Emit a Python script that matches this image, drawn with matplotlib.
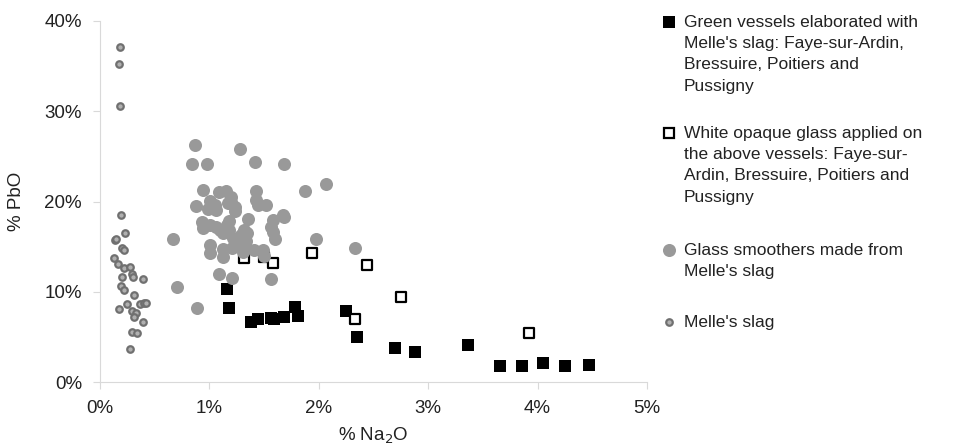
import matplotlib
matplotlib.use('Agg')
import matplotlib.pyplot as plt
from matplotlib.ticker import PercentFormatter
from matplotlib.lines import Line2D

plt.rcParams['font.family'] = ['Liberation Sans', 'DejaVu Sans']

# Green vessels elaborated with Melle's slag (% Na2O, % PbO)
green_na = [1.16, 1.18, 1.38, 1.44, 1.56, 1.59, 1.68, 1.78, 1.81, 2.25, 2.35,
            2.70, 2.88, 3.36, 3.66, 3.86, 4.05, 4.25, 4.47]
green_pb = [10.3, 8.25, 6.7, 7.0, 7.1, 7.0, 7.2, 8.3, 7.3, 7.85, 5.0,
            3.8, 3.3, 4.1, 1.8, 1.8, 2.1, 1.8, 1.95]

# White opaque glass applied on the vessels
white_na = [1.32, 1.50, 1.58, 1.94, 2.44, 2.75, 2.33, 3.92]
white_pb = [13.8, 13.9, 13.2, 14.3, 13.0, 9.4, 7.0, 5.5]

# Glass smoothers made from Melle's slag
smooth_na = [0.87, 1.28, 0.84, 0.98, 1.42, 1.68,
             0.94, 1.09, 1.15, 1.43, 1.87, 2.07,
             0.88, 1.01, 1.04, 1.20, 1.23, 1.20, 0.99, 1.06,
             1.43, 1.44, 1.52, 1.23, 1.18, 1.35,
             0.93, 0.94, 1.01, 1.06, 1.10, 1.16, 1.18,
             1.32, 1.29, 1.58, 1.56, 1.67, 1.68, 1.60, 1.58,
             1.01, 1.01, 1.12, 1.12, 1.23, 1.21, 1.32,
             1.41, 1.49, 1.50, 1.97, 2.33, 0.67,
             1.09, 1.21, 1.56, 0.70, 0.89,
             1.33, 1.34, 1.05, 1.17, 1.12, 1.22, 1.31]
smooth_pb = [26.2, 25.8, 24.2, 24.1, 24.4, 24.2,
             21.3, 21.1, 21.2, 21.2, 21.2, 21.9,
             19.5, 20.1, 19.4, 20.5, 19.4, 20.0, 19.2, 19.1,
             20.2, 19.6, 19.6, 18.9, 17.8, 18.1,
             17.7, 17.1, 17.4, 17.2, 16.9, 17.4, 16.8,
             16.8, 16.3, 18.0, 17.2, 18.5, 18.3, 15.9, 16.6,
             15.2, 14.3, 14.8, 13.9, 15.4, 14.9, 15.2,
             14.6, 14.6, 14.0, 15.9, 14.9, 15.9,
             12.0, 11.5, 11.4, 10.5, 8.2,
             15.6, 16.5, 19.6, 19.8, 16.5, 16.0, 14.4]

# Melle's slag
slag_na = [0.18, 0.17, 0.18, 0.19, 0.23, 0.14, 0.15, 0.20, 0.22, 0.13, 0.16,
           0.22, 0.27, 0.29, 0.20, 0.30, 0.39, 0.19, 0.22, 0.31, 0.17, 0.25,
           0.29, 0.33, 0.37, 0.40, 0.42, 0.31, 0.39, 0.29, 0.34, 0.27]
slag_pb = [37.1, 35.2, 30.6, 18.5, 16.5, 15.7, 15.8, 14.9, 14.6, 13.7, 13.05,
           12.6, 12.8, 12.0, 11.7, 11.6, 11.4, 10.65, 10.2, 9.65, 8.1, 8.7,
           7.9, 7.7, 8.7, 8.8, 8.8, 7.2, 6.7, 5.6, 5.4, 3.7]

labels = ["Green vessels elaborated with\nMelle's slag: Faye-sur-Ardin,\nBressuire, Poitiers and\nPussigny",
          "White opaque glass applied on\nthe above vessels: Faye-sur-\nArdin, Bressuire, Poitiers and\nPussigny",
          "Glass smoothers made from\nMelle's slag",
          "Melle's slag"]

fig = plt.figure(figsize=(9.68, 4.46), dpi=100)
ax = fig.add_axes([100 / 968, 1 - 382.3 / 446, 547 / 968, 361.6 / 446])

ax.scatter(green_na, green_pb, marker='s', s=72, c='black', linewidths=0, zorder=3)
ax.scatter(white_na, white_pb, marker='s', s=50, facecolors='white',
           edgecolors='black', linewidths=1.6, zorder=4)
ax.scatter(smooth_na, smooth_pb, marker='o', s=88, c='#999999', linewidths=0, zorder=5)
ax.scatter(slag_na, slag_pb, marker='o', s=22, facecolors='#b0b0b0',
           edgecolors='#707070', linewidths=1.6, zorder=6)

ax.set_xlim(0, 5)
ax.set_ylim(0, 40)
ax.set_xticks([0, 1, 2, 3, 4, 5])
ax.set_yticks([0, 10, 20, 30, 40])
ax.xaxis.set_major_formatter(PercentFormatter(decimals=0))
ax.yaxis.set_major_formatter(PercentFormatter(decimals=0))
for s in ['top', 'right']:
    ax.spines[s].set_visible(False)
for s in ['left', 'bottom']:
    ax.spines[s].set_color('#d9d9d9')
ax.tick_params(colors='#d9d9d9', labelcolor='#222222', labelsize=13.5,
               length=5, direction='out', pad=8)
ax.set_xlabel('% Na$_2$O', fontsize=13.5, color='#222222', labelpad=6)
ax.set_ylabel('% PbO', fontsize=13.5, color='#222222', labelpad=14)

# legend drawn by hand so the markers line up with the first line of text
leg_y = [22, 133, 250, 322]
handles = [dict(marker='s', ms=8.5, mfc='black', mec='black', mew=0),
           dict(marker='s', ms=7, mfc='white', mec='black', mew=1.6),
           dict(marker='o', ms=9.4, mfc='#999999', mec='#999999', mew=0),
           dict(marker='o', ms=4.7, mfc='#b0b0b0', mec='#707070', mew=1.6)]
for y, lab, h in zip(leg_y, labels, handles):
    fy = 1 - y / 446
    fig.add_artist(Line2D([669 / 968], [fy], transform=fig.transFigure, ls='none', **h))
    fig.text(684 / 968, 1 - (y - 7) / 446, lab, fontsize=12.5, color='#222222',
             va='top', ha='left', linespacing=1.52)

fig.savefig('out.png', dpi=100)
